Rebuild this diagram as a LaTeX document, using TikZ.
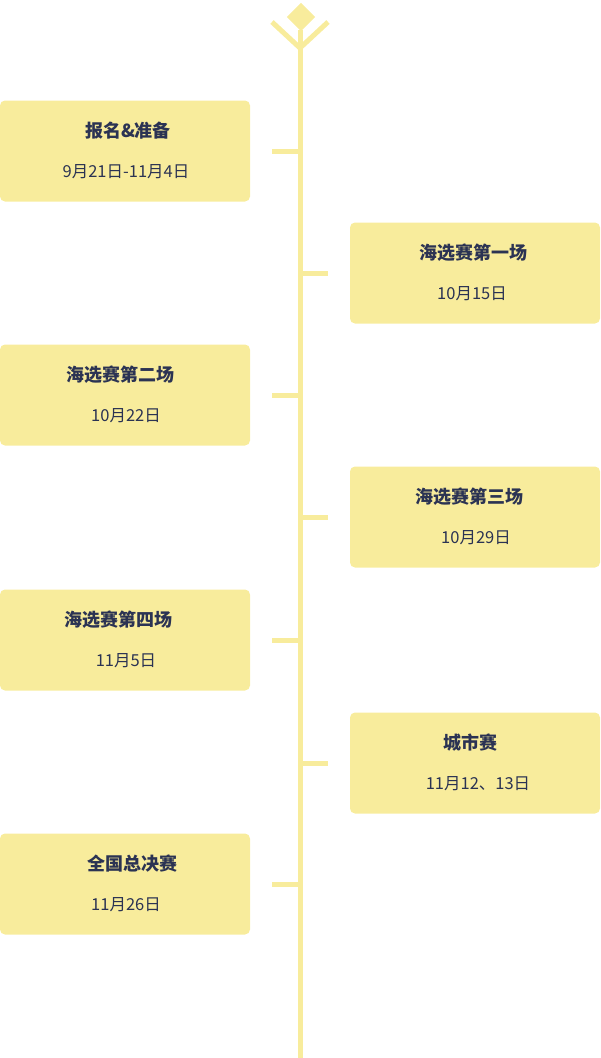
\documentclass[tikz,border=0pt]{standalone}
\usepackage{fontspec}
\setmainfont{Noto Sans CJK SC}
\definecolor{ybox}{HTML}{F8EC9C}
\definecolor{ink}{HTML}{2B3353}
\begin{document}
\begin{tikzpicture}[x=1pt,y=-1pt,
  box/.style={fill=ybox,rounded corners=5pt,minimum width=250pt,minimum height=101pt,inner sep=0pt},
  ttl/.style={text=ink,font=\bfseries\fontsize{18}{20}\selectfont},
  dt/.style={text=ink,font=\fontsize{16.5}{18}\selectfont},
  tick/.style={draw=ybox,line width=5pt}]
\useasboundingbox (0,0) rectangle (601,1058);
\draw[draw=ybox,line width=5pt] (300,30) -- (300,1058);
\node[fill=ybox,minimum size=20pt,inner sep=0pt,rotate=45] (dia) at (301,17) {};
\draw[draw=ybox,line width=5pt] (272,22) -- (300,48) -- (328,22);
% left boxes
\foreach \n/\y/\t/\d/\tx in {a/151/报名\&准备/9月21日-11月4日/128, c/395/海选赛第二场/10月22日/120, e/640/海选赛第四场/11月5日/118, g/884/全国总决赛/11月26日/132}{
  \node[box] (\n) at (125,\y) {};
  \node[ttl] (\n t) at (\tx,\y-20) {\t};
  \node[dt] (\n d) at (126,\y+21) {\d};
  \coordinate (\n k) at (272,\y);
  \draw[tick] (\n k) -- (300,\y);
}
\foreach \n/\y/\t/\d/\tx/\dx in {b/273/海选赛第一场/10月15日/473/472, d/517/海选赛第三场/10月29日/469/476, f/763/城市赛/11月12、13日/470/478}{
  \node[box] (\n) at (475,\y) {};
  \node[ttl] (\n t) at (\tx,\y-20) {\t};
  \node[dt] (\n d) at (\dx,\y+21) {\d};
  \coordinate (\n k) at (328,\y);
  \draw[tick] (300,\y) -- (\n k);
}
\end{tikzpicture}
\end{document}
